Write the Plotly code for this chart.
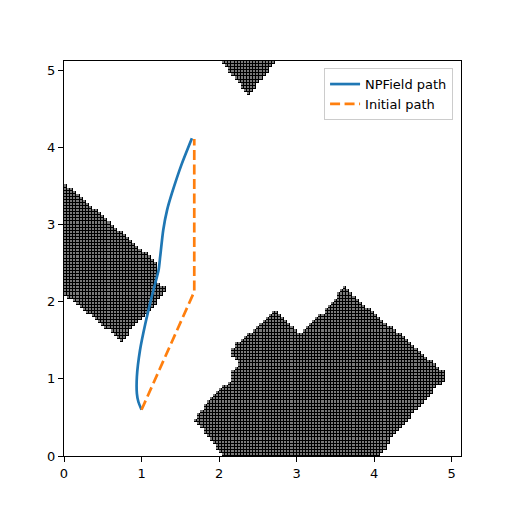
import numpy as np
import plotly.graph_objects as go

# occupancy grid: 128 x 128 cells of 0.04
CELL = 0.04
N_CELLS = 128

# obstacle outlines (x, y)
left_obstacle_x = [0.0, 1.20, 1.20, 1.32, 1.32, 1.20, 0.74, 0.0]
left_obstacle_y = [3.55, 2.50, 2.27, 2.17, 2.12, 2.00, 1.49, 2.11]

top_obstacle_x = [1.96, 2.80, 2.38]
top_obstacle_y = [5.20, 5.20, 4.68]

right_obstacle_x = [2.06, 1.68, 1.80, 1.93, 2.06, 2.16, 2.16, 2.25, 2.16, 2.16, 2.21,
                    2.27, 2.44, 2.72, 3.05, 3.11, 3.24, 3.35, 3.48, 3.54, 3.63, 3.91,
                    4.21, 4.34, 4.64, 4.72, 4.92, 4.92, 4.81, 4.55, 4.21, 4.08]
right_obstacle_y = [0.00, 0.47, 0.64, 0.79, 0.90, 0.96, 1.11, 1.20, 1.30, 1.37, 1.48,
                    1.50, 1.63, 1.88, 1.57, 1.63, 1.76, 1.87, 2.02, 2.11, 2.20, 1.93,
                    1.67, 1.59, 1.29, 1.24, 1.09, 0.98, 0.90, 0.60, 0.21, 0.00]

# paths
npfield_x = [1.00, 0.96, 0.94, 0.94, 0.98, 1.05, 1.13, 1.22, 1.24, 1.28, 1.33, 1.39, 1.52, 1.65]
npfield_y = [0.60, 0.70, 0.81, 1.03, 1.37, 1.72, 2.06, 2.41, 2.58, 2.93, 3.19, 3.40, 3.79, 4.12]

initial_x = [1.00, 1.68, 1.68]
initial_y = [0.60, 2.13, 4.11]


def inside(px, py, poly_x, poly_y):
    """Ray casting point-in-polygon test on arrays of points."""
    res = np.zeros(px.shape, dtype=bool)
    n = len(poly_x)
    j = n - 1
    for i in range(n):
        xi, yi = poly_x[i], poly_y[i]
        xj, yj = poly_x[j], poly_y[j]
        cond = (yi > py) != (yj > py)
        xcross = (xj - xi) * (py - yi) / ((yj - yi) if yj != yi else 1e-12) + xi
        res ^= cond & (px < xcross)
        j = i
    return res


centers = (np.arange(N_CELLS) + 0.5) * CELL
gx, gy = np.meshgrid(centers, centers)
occupied = (inside(gx, gy, left_obstacle_x, left_obstacle_y)
            | inside(gx, gy, top_obstacle_x, top_obstacle_y)
            | inside(gx, gy, right_obstacle_x, right_obstacle_y))
z = np.where(occupied, 1.0, np.nan)

fig = go.Figure()

# dark under-layer shows through the gaps of the gray cells
fig.add_trace(go.Heatmap(
    x=centers, y=centers, z=z,
    colorscale=[[0, "black"], [1, "black"]],
    showscale=False, hoverinfo="skip"
))
fig.add_trace(go.Heatmap(
    x=centers, y=centers, z=z,
    colorscale=[[0, "#7a7a7a"], [1, "#7a7a7a"]],
    xgap=1, ygap=1,
    showscale=False, hoverinfo="skip"
))

fig.add_trace(go.Scatter(
    x=npfield_x, y=npfield_y, mode="lines", name="NPField path",
    line=dict(color="#1f77b4", width=2.7, shape="spline", smoothing=0.6)
))
fig.add_trace(go.Scatter(
    x=initial_x, y=initial_y, mode="lines", name="Initial path",
    line=dict(color="#ff7f0e", width=2.7, dash="10px,4.5px")
))

axis_style = dict(
    range=[0, 5.12], dtick=1, showgrid=False, zeroline=False,
    showline=True, linecolor="black", linewidth=1, mirror=True,
    ticks="outside", ticklen=5, tickcolor="black",
    tickfont=dict(family="DejaVu Sans", size=13, color="black")
)

# the page body adds an 8px offset, so the figure is a bit smaller than the window
fig.update_layout(
    width=504, height=504,
    margin=dict(l=56, r=51, t=53, b=56),
    plot_bgcolor="white", paper_bgcolor="white",
    xaxis=axis_style, yaxis=axis_style,
    showlegend=True,
    legend=dict(
        x=0.98, y=0.982, xanchor="right", yanchor="top",
        bgcolor="rgba(255,255,255,0.8)", bordercolor="#cccccc", borderwidth=1,
        font=dict(family="DejaVu Sans", size=13, color="black"),
        tracegroupgap=0
    )
)

fig.write_html("out.html")
